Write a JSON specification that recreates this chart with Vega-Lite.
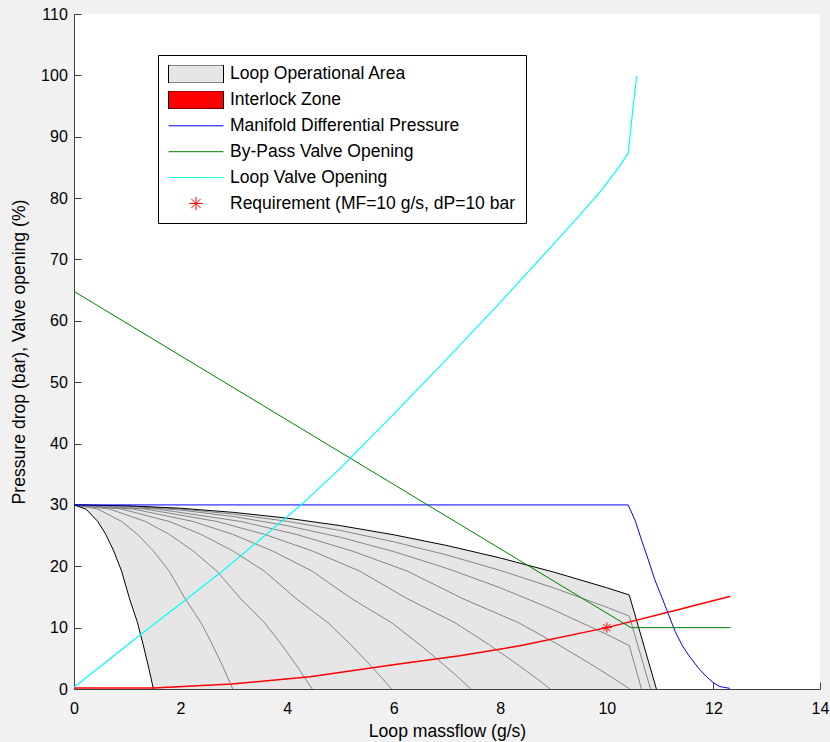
{
  "$schema": "https://vega.github.io/schema/vega-lite/v6.json",
  "width": 746,
  "height": 675,
  "autosize": {"type": "none"},
  "padding": {"left": 74, "top": 14, "right": 10, "bottom": 53},
  "background": "#f1f1f1",
  "config": {
    "view": {"fill": "white", "stroke": null},
    "font": "Liberation Sans",
    "axis": {
      "grid": false,
      "domainColor": "#404040",
      "domainWidth": 1,
      "tickColor": "#404040",
      "tickWidth": 1,
      "tickSize": -7,
      "labelFlush": false,
      "labelOverlap": false,
      "labelFont": "Liberation Sans",
      "labelFontSize": 16,
      "labelColor": "#000000",
      "titleFont": "Liberation Sans",
      "titleFontSize": 17.6,
      "titleFontWeight": "normal",
      "titleColor": "#000000"
    },
    "legend": {
      "title": null, "orient": "none", "legendX": 84, "legendY": 41,
      "strokeColor": "#000000", "fillColor": "#ffffff", "padding": 10, "cornerRadius": 0,
      "labelFont": "Liberation Sans", "labelFontSize": 17.5, "labelColor": "#000000", "labelLimit": 500,
      "labelOffset": 6, "symbolSize": 3025, "rowPadding": 7.9, "clipHeight": 18,
      "symbolStrokeWidth": 1, "symbolOpacity": 1
    }
  },
  "datasets": {
    "area": [
      {"x": 0, "y": 30, "y2": 30},
      {"x": 0.2235, "y": 29.99, "y2": 29.325},
      {"x": 0.447, "y": 29.97, "y2": 27.3},
      {"x": 0.596, "y": 29.95, "y2": 25.2},
      {"x": 0.745, "y": 29.93, "y2": 22.5},
      {"x": 0.894, "y": 29.89, "y2": 19.2},
      {"x": 1.043, "y": 29.85, "y2": 14.7},
      {"x": 1.192, "y": 29.81, "y2": 10.8},
      {"x": 1.2963, "y": 29.77, "y2": 7.293},
      {"x": 1.3857, "y": 29.74, "y2": 4.053},
      {"x": 1.4453, "y": 29.72, "y2": 1.773},
      {"x": 1.49, "y": 29.7, "y2": 0},
      {"x": 2, "y": 29.46, "y2": 0},
      {"x": 3, "y": 28.78, "y2": 0},
      {"x": 4, "y": 27.84, "y2": 0},
      {"x": 5, "y": 26.62, "y2": 0},
      {"x": 6, "y": 25.13, "y2": 0},
      {"x": 7, "y": 23.38, "y2": 0},
      {"x": 8, "y": 21.35, "y2": 0},
      {"x": 9, "y": 19.06, "y2": 0},
      {"x": 10, "y": 16.49, "y2": 0},
      {"x": 10.42, "y": 15.33, "y2": 0},
      {"x": 10.93, "y": 0, "y2": 0}
    ],
    "black": [
      {"curve": 1, "x": 0, "y": 30}, {"curve": 1, "x": 0.2235, "y": 29.325}, {"curve": 1, "x": 0.447, "y": 27.3},
      {"curve": 1, "x": 0.596, "y": 25.2}, {"curve": 1, "x": 0.745, "y": 22.5}, {"curve": 1, "x": 0.894, "y": 19.2},
      {"curve": 1, "x": 1.043, "y": 14.7}, {"curve": 1, "x": 1.192, "y": 10.8}, {"curve": 1, "x": 1.2963, "y": 7.293},
      {"curve": 1, "x": 1.3857, "y": 4.053}, {"curve": 1, "x": 1.4453, "y": 1.773}, {"curve": 1, "x": 1.49, "y": 0},
      {"curve": 10, "x": 0, "y": 30}, {"curve": 10, "x": 1, "y": 29.86}, {"curve": 10, "x": 2, "y": 29.46},
      {"curve": 10, "x": 3, "y": 28.78}, {"curve": 10, "x": 4, "y": 27.84}, {"curve": 10, "x": 5, "y": 26.62},
      {"curve": 10, "x": 6, "y": 25.13}, {"curve": 10, "x": 7, "y": 23.38}, {"curve": 10, "x": 8, "y": 21.35},
      {"curve": 10, "x": 9, "y": 19.06}, {"curve": 10, "x": 10, "y": 16.49}, {"curve": 10, "x": 10.42, "y": 15.33},
      {"curve": 10, "x": 10.93, "y": 0}
    ],
    "gray": [
      {"curve": 2, "x": 0, "y": 30}, {"curve": 2, "x": 0.447, "y": 29.325}, {"curve": 2, "x": 0.894, "y": 27.3},
      {"curve": 2, "x": 1.192, "y": 25.2}, {"curve": 2, "x": 1.49, "y": 22.5}, {"curve": 2, "x": 1.788, "y": 19.2},
      {"curve": 2, "x": 2.086, "y": 14.7}, {"curve": 2, "x": 2.384, "y": 10.8}, {"curve": 2, "x": 2.5926, "y": 7.293},
      {"curve": 2, "x": 2.7714, "y": 4.053}, {"curve": 2, "x": 2.8906, "y": 1.773}, {"curve": 2, "x": 2.98, "y": 0},
      {"curve": 3, "x": 0, "y": 30}, {"curve": 3, "x": 0.6705, "y": 29.325}, {"curve": 3, "x": 1.341, "y": 27.3},
      {"curve": 3, "x": 1.788, "y": 25.2}, {"curve": 3, "x": 2.235, "y": 22.5}, {"curve": 3, "x": 2.682, "y": 19.2},
      {"curve": 3, "x": 3.129, "y": 14.7}, {"curve": 3, "x": 3.576, "y": 10.8}, {"curve": 3, "x": 3.8889, "y": 7.293},
      {"curve": 3, "x": 4.1571, "y": 4.053}, {"curve": 3, "x": 4.3359, "y": 1.773}, {"curve": 3, "x": 4.47, "y": 0},
      {"curve": 4, "x": 0, "y": 30}, {"curve": 4, "x": 0.894, "y": 29.325}, {"curve": 4, "x": 1.788, "y": 27.3},
      {"curve": 4, "x": 2.384, "y": 25.2}, {"curve": 4, "x": 2.98, "y": 22.5}, {"curve": 4, "x": 3.576, "y": 19.2},
      {"curve": 4, "x": 4.172, "y": 14.7}, {"curve": 4, "x": 4.768, "y": 10.8}, {"curve": 4, "x": 5.1852, "y": 7.293},
      {"curve": 4, "x": 5.5428, "y": 4.053}, {"curve": 4, "x": 5.7812, "y": 1.773}, {"curve": 4, "x": 5.96, "y": 0},
      {"curve": 5, "x": 0, "y": 30}, {"curve": 5, "x": 1.1175, "y": 29.325}, {"curve": 5, "x": 2.235, "y": 27.3},
      {"curve": 5, "x": 2.98, "y": 25.2}, {"curve": 5, "x": 3.725, "y": 22.5}, {"curve": 5, "x": 4.47, "y": 19.2},
      {"curve": 5, "x": 5.215, "y": 14.7}, {"curve": 5, "x": 5.96, "y": 10.8}, {"curve": 5, "x": 6.4815, "y": 7.293},
      {"curve": 5, "x": 6.9285, "y": 4.053}, {"curve": 5, "x": 7.2265, "y": 1.773}, {"curve": 5, "x": 7.45, "y": 0},
      {"curve": 6, "x": 0, "y": 30}, {"curve": 6, "x": 1.341, "y": 29.325}, {"curve": 6, "x": 2.682, "y": 27.3},
      {"curve": 6, "x": 3.576, "y": 25.2}, {"curve": 6, "x": 4.47, "y": 22.5}, {"curve": 6, "x": 5.364, "y": 19.2},
      {"curve": 6, "x": 6.258, "y": 14.7}, {"curve": 6, "x": 7.152, "y": 10.8}, {"curve": 6, "x": 7.7778, "y": 7.293},
      {"curve": 6, "x": 8.3142, "y": 4.053}, {"curve": 6, "x": 8.6718, "y": 1.773}, {"curve": 6, "x": 8.94, "y": 0},
      {"curve": 7, "x": 0, "y": 30}, {"curve": 7, "x": 1.5645, "y": 29.325}, {"curve": 7, "x": 3.129, "y": 27.3},
      {"curve": 7, "x": 4.172, "y": 25.2}, {"curve": 7, "x": 5.215, "y": 22.5}, {"curve": 7, "x": 6.258, "y": 19.2},
      {"curve": 7, "x": 7.301, "y": 14.7}, {"curve": 7, "x": 8.344, "y": 10.8}, {"curve": 7, "x": 9.0741, "y": 7.293},
      {"curve": 7, "x": 9.6999, "y": 4.053}, {"curve": 7, "x": 10.1171, "y": 1.773}, {"curve": 7, "x": 10.43, "y": 0},
      {"curve": 8, "x": 0, "y": 30}, {"curve": 8, "x": 1, "y": 29.79}, {"curve": 8, "x": 2, "y": 29.16},
      {"curve": 8, "x": 3, "y": 28.1}, {"curve": 8, "x": 4, "y": 26.62}, {"curve": 8, "x": 5, "y": 24.72},
      {"curve": 8, "x": 6, "y": 22.4}, {"curve": 8, "x": 7, "y": 19.65}, {"curve": 8, "x": 8, "y": 16.49},
      {"curve": 8, "x": 9, "y": 12.9}, {"curve": 8, "x": 10, "y": 8.89}, {"curve": 8, "x": 10.42, "y": 7.07},
      {"curve": 8, "x": 10.65, "y": 0},
      {"curve": 9, "x": 0, "y": 30}, {"curve": 9, "x": 1, "y": 29.83}, {"curve": 9, "x": 2, "y": 29.33},
      {"curve": 9, "x": 3, "y": 28.5}, {"curve": 9, "x": 4, "y": 27.33}, {"curve": 9, "x": 5, "y": 25.83},
      {"curve": 9, "x": 6, "y": 23.99}, {"curve": 9, "x": 7, "y": 21.83}, {"curve": 9, "x": 8, "y": 19.32},
      {"curve": 9, "x": 9, "y": 16.49}, {"curve": 9, "x": 10, "y": 13.32}, {"curve": 9, "x": 10.42, "y": 11.89},
      {"curve": 9, "x": 10.82, "y": 0}
    ],
    "interlock": [
      {"x": 0, "y": 0.15}, {"x": 1.49, "y": 0.15}, {"x": 2.96, "y": 0.8}, {"x": 4.43, "y": 2.0},
      {"x": 5.96, "y": 3.9}, {"x": 7.24, "y": 5.4}, {"x": 8.37, "y": 7.05}, {"x": 10, "y": 10},
      {"x": 11.37, "y": 13.0}, {"x": 12.32, "y": 15.1}
    ],
    "manifold": [
      {"x": 0, "y": 30}, {"x": 10.4, "y": 30}, {"x": 10.53, "y": 27.5}, {"x": 10.65, "y": 24.3},
      {"x": 10.78, "y": 21.0}, {"x": 10.9, "y": 17.8}, {"x": 11.03, "y": 15.0}, {"x": 11.15, "y": 12.3},
      {"x": 11.28, "y": 9.4}, {"x": 11.42, "y": 7.0}, {"x": 11.56, "y": 5.2}, {"x": 11.72, "y": 3.4},
      {"x": 11.87, "y": 2.0}, {"x": 12.0, "y": 1.0}, {"x": 12.12, "y": 0.4}, {"x": 12.31, "y": 0.1}
    ],
    "bypass": [
      {"x": 0, "y": 64.8}, {"x": 10.45, "y": 10.0}, {"x": 12.32, "y": 10.0}
    ],
    "loopvalve": [
      {"x": 0, "y": 0.3}, {"x": 0.6, "y": 4.4}, {"x": 1.24, "y": 8.8}, {"x": 2, "y": 13.9},
      {"x": 2.74, "y": 18.9}, {"x": 3.5, "y": 24.4}, {"x": 4.3, "y": 30.3}, {"x": 5, "y": 36.0},
      {"x": 6, "y": 44.8}, {"x": 7, "y": 53.8}, {"x": 8, "y": 63.0}, {"x": 9, "y": 72.5},
      {"x": 9.5, "y": 77.3}, {"x": 9.9, "y": 81.3}, {"x": 10.24, "y": 85.2}, {"x": 10.4, "y": 87.3},
      {"x": 10.47, "y": 93}, {"x": 10.52, "y": 97}, {"x": 10.56, "y": 99.9}
    ],
    "req": [
      {"series": "Requirement (MF=10 g/s, dP=10 bar", "x": 10, "y": 10}
    ]
  },
  "encoding": {
    "x": {
      "field": "x", "type": "quantitative",
      "scale": {"domain": [0, 14], "nice": false, "zero": false},
      "axis": {
        "title": "Loop massflow (g/s)",
        "values": [0, 2, 4, 6, 8, 10, 12, 14],
        "labelPadding": 18.5,
        "titleX": 373, "titleY": 47, "titleBaseline": "alphabetic", "titleAlign": "center"
      }
    },
    "y": {
      "field": "y", "type": "quantitative",
      "scale": {"domain": [0, 110], "nice": false, "zero": false},
      "axis": {
        "title": "Pressure drop (bar), Valve opening (%)",
        "values": [0, 10, 20, 30, 40, 50, 60, 70, 80, 90, 100, 110],
        "labelPadding": 13.7,
        "titleX": -49.5, "titleY": 337.5, "titleBaseline": "alphabetic", "titleAlign": "center", "titleAngle": -90
      }
    }
  },
  "layer": [
    {
      "data": {"name": "area"},
      "mark": {"type": "area", "color": "#e6e6e6", "opacity": 1},
      "encoding": {"y2": {"field": "y2"}}
    },
    {
      "data": {"name": "gray"},
      "mark": {"type": "line", "color": "#858585", "strokeWidth": 1},
      "encoding": {"detail": {"field": "curve", "type": "nominal"}}
    },
    {
      "data": {"name": "black"},
      "mark": {"type": "line", "color": "#000000", "strokeWidth": 1},
      "encoding": {"detail": {"field": "curve", "type": "nominal"}}
    },
    {
      "data": {"name": "interlock"},
      "mark": {"type": "line", "color": "#ff0000", "strokeWidth": 1.5},
      "encoding": {}
    },
    {
      "data": {"name": "manifold"},
      "mark": {"type": "line", "color": "#0000ff", "strokeWidth": 1},
      "encoding": {}
    },
    {
      "data": {"name": "bypass"},
      "mark": {"type": "line", "color": "#008000", "strokeWidth": 1},
      "encoding": {}
    },
    {
      "data": {"name": "loopvalve"},
      "mark": {"type": "line", "color": "#00ffff", "strokeWidth": 1.2},
      "encoding": {}
    },
    {
      "data": {"name": "req"},
      "mark": {"type": "point", "size": 1800, "opacity": 1, "strokeWidth": 1},
      "encoding": {
        "fill": {
          "field": "series", "type": "nominal",
          "scale": {
            "domain": ["Loop Operational Area", "Interlock Zone", "Manifold Differential Pressure", "By-Pass Valve Opening", "Loop Valve Opening", "Requirement (MF=10 g/s, dP=10 bar"],
            "range": ["#e6e6e6", "#ff0000", "transparent", "transparent", "transparent", "transparent"]
          },
          "legend": {"title": null}
        },
        "stroke": {
          "field": "series", "type": "nominal",
          "scale": {
            "domain": ["Loop Operational Area", "Interlock Zone", "Manifold Differential Pressure", "By-Pass Valve Opening", "Loop Valve Opening", "Requirement (MF=10 g/s, dP=10 bar"],
            "range": ["#000000", "#000000", "#0000ff", "#008000", "#00ffff", "#ff0000"]
          },
          "legend": {"title": null}
        },
        "shape": {
          "field": "series", "type": "nominal",
          "scale": {
            "domain": ["Loop Operational Area", "Interlock Zone", "Manifold Differential Pressure", "By-Pass Valve Opening", "Loop Valve Opening", "Requirement (MF=10 g/s, dP=10 bar"],
            "range": ["M-1,-0.33H1V0.33H-1Z", "M-1,-0.33H1V0.33H-1Z", "M-1,0H1", "M-1,0H1", "M-1,0H1", "M-0.24,0H0.24M0,-0.24V0.24M-0.17,-0.17L0.17,0.17M-0.17,0.17L0.17,-0.17"]
          },
          "legend": {"title": null}
        }
      }
    }
  ]
}
